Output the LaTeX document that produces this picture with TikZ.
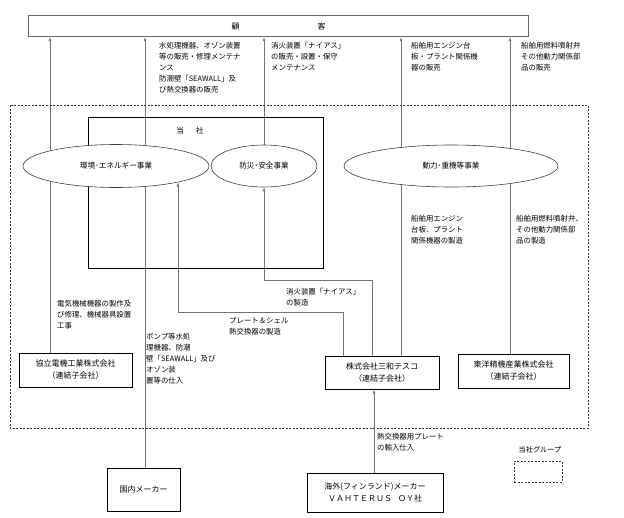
\documentclass[tikz,border=0pt]{standalone}
\usepackage{fontspec}
\setmainfont{Noto Sans CJK JP}
\usetikzlibrary{arrows.meta,shapes.geometric}
\pgfdeclarelayer{bg}
\pgfsetlayers{bg,main}
\begin{document}
\begin{tikzpicture}[x=1pt,y=-1pt,
  conn/.style={draw=black!55, line width=0.6pt},
  arr/.style={conn, -{Latex[length=4pt,width=3pt]}},
  lbl/.style={anchor=north west, align=left, inner sep=0pt, font=\fontsize{7.4}{11}\selectfont},
  cobox/.style={draw=black, line width=1pt, fill=white, align=center, inner sep=0pt, font=\fontsize{8}{12}\selectfont},
  biz/.style={ellipse, draw=black!75, line width=0.6pt, fill=white, inner sep=0pt, font=\fontsize{7.6}{9}\selectfont},
  grp/.style={draw=black!80, line width=0.7pt, dash pattern=on 2pt off 1.5pt}]

\useasboundingbox (0,0) rectangle (624,517);

% customer box
\node[draw=black!60, line width=1.2pt, minimum width=500pt, minimum height=21pt, anchor=north west, inner sep=0pt, font=\fontsize{8}{10}\selectfont] (cust) at (28,15) {顧\hspace{78pt}客};

% group (dashed) frame
\draw[grp] (10,105) rectangle (588,428);

% company (当社) frame
\node[draw=black, line width=1.2pt, minimum width=235pt, minimum height=151pt, anchor=north west, inner sep=0pt] (tosha) at (88,117) {};
\node[inner sep=0pt, font=\fontsize{7.6}{9}\selectfont] (toshalbl) at (190,131) {当\hspace{12pt}社};

% business ellipses
\node[biz, minimum width=186pt, minimum height=43pt] (e1) at (116,166) {環境･エネルギー事業};
\node[biz, minimum width=106pt, minimum height=42pt] (e2) at (264,166) {防災･安全事業};
\node[biz, minimum width=214pt, minimum height=42pt] (e3) at (451,166) {動力･重機等事業};

% companies
\node[cobox, minimum width=113pt, minimum height=34pt] (kyo) at (75.5,370) {協立電機工業株式会社\\（連結子会社）};
\node[cobox, minimum width=114pt, minimum height=33pt] (sanwa) at (382,372.5) {株式会社三和テスコ\\（連結子会社）};
\node[cobox, minimum width=111pt, minimum height=34pt] (toyo) at (513.5,371) {東洋精機産業株式会社\\（連結子会社）};
\node[cobox, line width=0.8pt, minimum width=73pt, minimum height=43pt] (kokunai) at (143.5,489.5) {国内メーカー};
\node[cobox, line width=0.8pt, minimum width=136pt, minimum height=39pt] (vah) at (375,492.5) {海外(フィンランド)メーカー\\ＶＡＨＴＥＲＵＳ\hspace{6pt}ＯＹ社};

% legend
\node[grp, minimum width=48pt, minimum height=21pt, inner sep=0pt] (leg) at (538,471.5) {};
\node[inner sep=0pt, font=\fontsize{7.2}{9}\selectfont] (leglbl) at (540,450) {当社グループ};

% helper coordinates
\coordinate (xa) at (50,0);
\coordinate (xb) at (145,0);
\coordinate (xd) at (401,0);
\coordinate (xe) at (510,0);
\coordinate (xf) at (343,0);
\coordinate (xg) at (372,0);
\coordinate (xh) at (178,0);
\coordinate (xi) at (374,0);
\coordinate (ya) at (0,312);
\coordinate (yb) at (0,280);
\coordinate (e1in) at (178,182.5);

% connectors
\begin{pgfonlayer}{bg}
\draw[arr] (kyo.north -| xa) -- (cust.south -| xa);
\draw[arr] (kokunai.north -| xb) -- (cust.south -| xb);
\draw[arr] (e2.north) -- (e2.north |- cust.south);
\draw[arr] (sanwa.north -| xd) -- (cust.south -| xd);
\draw[arr] (toyo.north -| xe) -- (cust.south -| xe);
\draw[arr] (sanwa.north -| xf) -- (xf |- ya) -- (xh |- ya) -- (e1in);
\draw[arr] (sanwa.north -| xg) -- (xg |- yb) -- (e2.south |- yb) -- (e2.south);
\draw[arr] (vah.north -| xi) -- (sanwa.south -| xi);
\end{pgfonlayer}

% labels
\node[lbl] (l1) at (159,42) {水処理機器、オゾン装置\\等の販売・修理メンテナ\\ンス\\防潮壁「SEAWALL」及\\び熱交換器の販売};
\node[lbl] (l2) at (271,42) {消火装置「ナイアス」\\の販売・設置・保守\\メンテナンス};
\node[lbl] (l3) at (411,42) {船舶用エンジン台\\板・プラント関係機\\器の販売};
\node[lbl] (l4) at (521,42) {船舶用燃料噴射弁\\その他動力関係部\\品の販売};
\node[lbl] (l5) at (411,215) {船舶用エンジン\\台板、プラント\\関係機器の製造};
\node[lbl] (l6) at (516,215) {船舶用燃料噴射弁、\\その他動力関係部\\品の製造};
\node[lbl] (l7) at (57,300) {電気機械機器の製作及\\び修理、機械器具設置\\工事};
\node[lbl] (l8) at (146,333) {ポンプ等水処\\理機器、防潮\\壁「SEAWALL」及び\\オゾン装\\置等の仕入};
\node[lbl] (l9) at (286,288) {消火装置「ナイアス」\\の製造};
\node[lbl] (l10) at (229,317) {プレート＆シェル\\熱交換器の製造};
\node[lbl] (l11) at (377,433) {熱交換器用プレート\\の輸入仕入};
\end{tikzpicture}
\end{document}
